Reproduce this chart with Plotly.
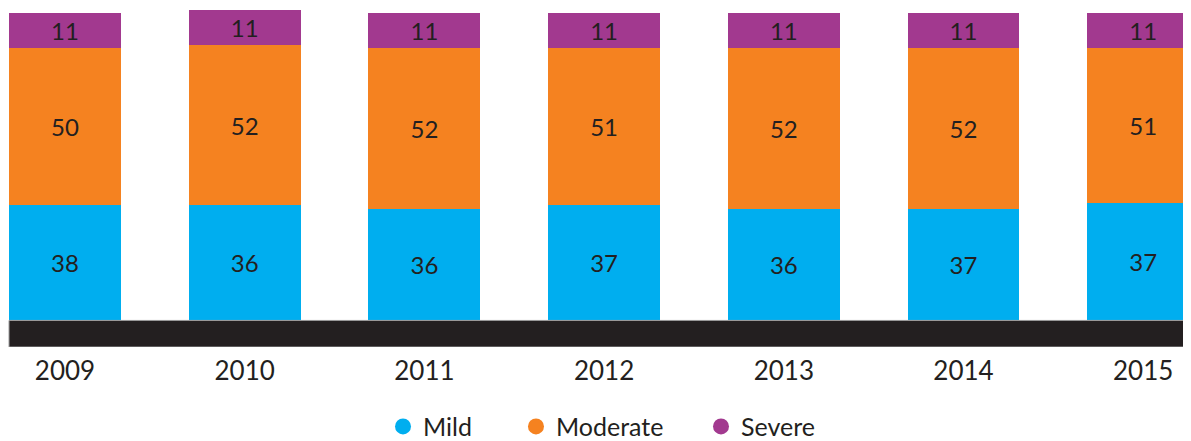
import plotly.graph_objects as go

# Data (shares in %; labels are the printed numbers)
years = ["2009", "2010", "2011", "2012", "2013", "2014", "2015"]

mild = [37.4, 37.4, 36.3, 37.4, 36.3, 36.3, 38.3]
moderate = [51.2, 52.2, 52.3, 51.2, 52.3, 52.3, 50.3]
severe = [11.4, 11.4, 11.4, 11.4, 11.4, 11.4, 11.4]

mild_labels = [38, 36, 36, 37, 36, 37, 37]
moderate_labels = [50, 52, 52, 51, 52, 52, 51]
severe_labels = [11, 11, 11, 11, 11, 11, 11]

# Palette
MILD = "#00AEEF"
MODERATE = "#F58220"
SEVERE = "#A2398F"
INK = "#231F20"

FONT_FAMILY = "Lato, 'Open Sans', sans-serif"
BAR_WIDTH = 0.623

# page body has an 8px margin, so the figure is a little smaller than the window
FIG_W, FIG_H = 1183, 433

fig = go.Figure()

series = [
    ("Mild", mild, mild_labels, MILD, "legend", 0.317),
    ("Moderate", moderate, moderate_labels, MODERATE, "legend2", 0.4294),
    ("Severe", severe, severe_labels, SEVERE, "legend3", 0.5858),
]

for name, vals, labels, color, leg, _ in series:
    fig.add_trace(go.Bar(
        x=years,
        y=vals,
        name=name,
        width=BAR_WIDTH,
        marker=dict(color=color, line=dict(width=0)),
        text=[str(v) for v in labels],
        textposition="inside",
        insidetextanchor="middle",
        textangle=0,
        constraintext="none",
        textfont=dict(family=FONT_FAMILY, size=24, color=INK),
        showlegend=False,
        hoverinfo="skip",
    ))
    # legend entry with a round marker, one legend box per entry for spacing
    fig.add_trace(go.Scatter(
        x=[None], y=[None],
        mode="markers",
        name=name,
        legend=leg,
        marker=dict(symbol="circle", size=16, color=color),
        showlegend=True,
    ))

# Black base band under the bars
fig.add_shape(
    type="rect",
    xref="x", yref="y",
    x0=-BAR_WIDTH / 2, x1=6.27,
    y0=-8.64, y1=0,
    fillcolor=INK,
    line=dict(color="#9A9A9A", width=1),
    layer="above",
)

legend_style = dict(
    orientation="h",
    xanchor="left",
    y=-0.235,
    yanchor="middle",
    font=dict(family=FONT_FAMILY, size=25, color=INK),
    bgcolor="rgba(0,0,0,0)",
)

fig.update_layout(
    width=FIG_W,
    height=FIG_H,
    barmode="stack",
    paper_bgcolor="white",
    plot_bgcolor="white",
    margin=dict(l=0, r=0, t=0, b=94, autoexpand=False),
    font=dict(family=FONT_FAMILY, color=INK),
    xaxis=dict(
        type="category",
        range=[-0.3172, 6.266],
        showgrid=False,
        zeroline=False,
        showline=False,
        ticks="",
        tickfont=dict(size=26, color=INK),
        ticklabelstandoff=6,
    ),
    yaxis=dict(
        range=[-8.64, 101.6],
        showgrid=False,
        zeroline=False,
        showline=False,
        showticklabels=False,
        ticks="",
    ),
    legend=dict(x=series[0][5], **legend_style),
    legend2=dict(x=series[1][5], **legend_style),
    legend3=dict(x=series[2][5], **legend_style),
)

fig.write_html("out.html")
